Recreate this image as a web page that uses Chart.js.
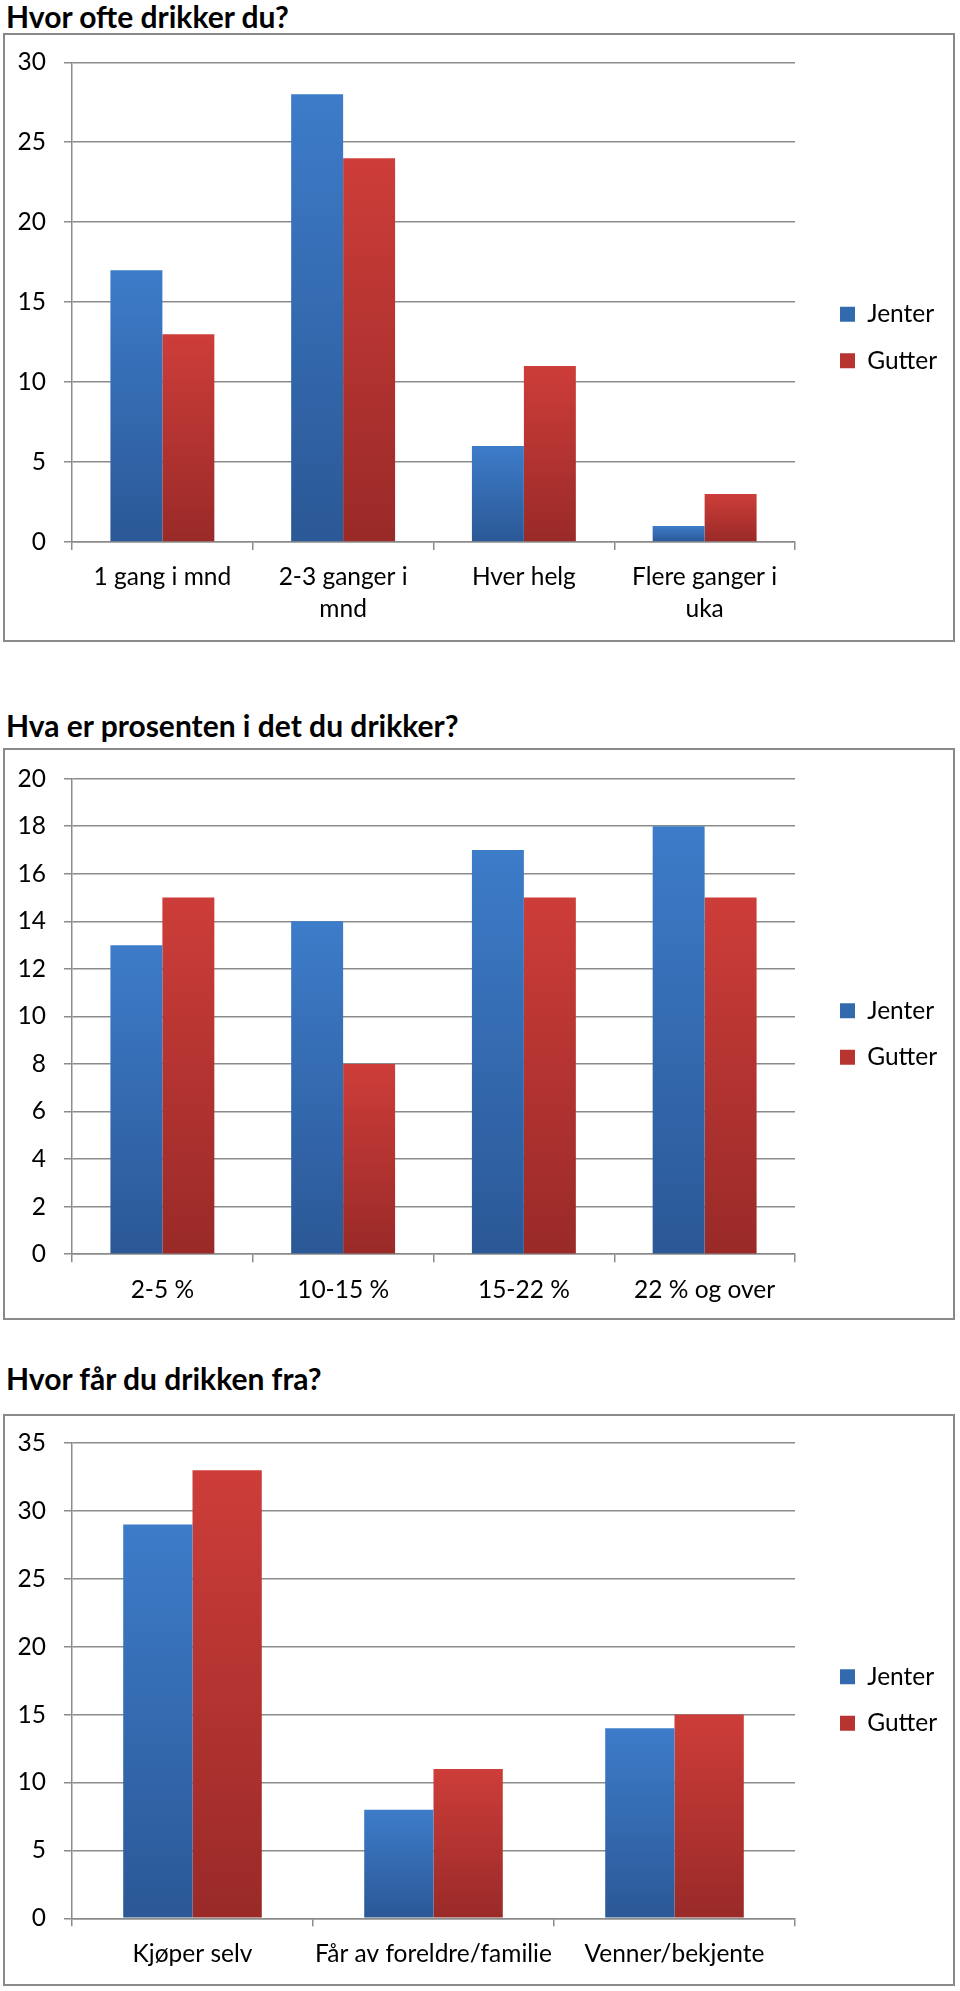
<!DOCTYPE html>
<html>
<head>
<meta charset="utf-8">
<script src="https://cdn.jsdelivr.net/npm/chart.js@4.4.0/dist/chart.umd.min.js"></script>
<style>
  body { margin: 0; background: #fff; width: 960px; height: 1991px; position: relative; overflow: hidden; }
  .tittel { position: absolute; left: 6px; margin: 0; font: bold 30px Lato, sans-serif; line-height: 30px; color: #000; white-space: nowrap; }
  .boks { position: absolute; left: 3px; width: 948px; border: 2px solid #898989; background: #fff; }
  .boks canvas { display: block; }
</style>
</head>
<body>

<h2 class="tittel" style="top:1px">Hvor ofte drikker du?</h2>
<div class="boks" style="top:33px;height:605px"><canvas id="oftChart" width="948" height="605"></canvas></div>

<h2 class="tittel" style="top:710px">Hva er prosenten i det du drikker?</h2>
<div class="boks" style="top:748px;height:568px"><canvas id="prosentChart" width="948" height="568"></canvas></div>

<h2 class="tittel" style="top:1363px">Hvor får du drikken fra?</h2>
<div class="boks" style="top:1414px;height:568px"><canvas id="kildeChart" width="948" height="568"></canvas></div>

<script>
// data
const serier = ['Jenter', 'Gutter'];

const kategorier1 = ['1 gang i mnd', ['2-3 ganger i', 'mnd'], 'Hver helg', ['Flere ganger i', 'uka']];
const jenter1 = [17, 28, 6, 1];
const gutter1 = [13, 24, 11, 3];
const yMaks1 = 30, ySteg1 = 5;

const kategorier2 = ['2-5 %', '10-15 %', '15-22 %', '22 % og over'];
const jenter2 = [13, 14, 17, 18];
const gutter2 = [15, 8, 15, 15];
const yMaks2 = 20, ySteg2 = 2;

const kategorier3 = ['Kjøper selv', 'Får av foreldre/familie', 'Venner/bekjente'];
const jenter3 = [29, 8, 14];
const gutter3 = [33, 11, 15];
const yMaks3 = 35, ySteg3 = 5;

const FONT = 'Lato';
const FONTSIZE = 24.5;
const grå = '#8b8b8b';

// gradient per stolpe, lys topp -> mørk bunn
function farge(topp, bunn) {
  return function(context) {
    const chart = context.chart;
    const y = chart.scales.y;
    if (!chart.chartArea || !y || context.raw == null) return bunn;
    const y0 = y.getPixelForValue(context.raw);
    const y1 = y.getPixelForValue(0);
    if (!isFinite(y0) || !isFinite(y1) || y0 === y1) return bunn;
    const g = chart.ctx.createLinearGradient(0, y0, 0, y1);
    g.addColorStop(0, topp);
    g.addColorStop(1, bunn);
    return g;
  };
}

// bredde på legenden, brukes til å plassere plotteområdet
function legendeBredde(pad, boks) {
  const ctx = document.createElement('canvas').getContext('2d');
  ctx.font = FONTSIZE + 'px ' + FONT;
  const maks = Math.max(...serier.map(t => ctx.measureText(t).width));
  return pad + boks + FONTSIZE / 2 + maks + 10;
}

function lagChart(id, labels, jenter, gutter, yMaks, ySteg, oppe, nede) {
  const canvas = document.getElementById(id);
  const H = canvas.height;
  const legPad = 22;
  const høyreLuft = 23;
  const padHøyre = 948 - 790 - høyreLuft - legendeBredde(legPad, 15);

  return new Chart(canvas, {
    type: 'bar',
    data: {
      labels: labels,
      datasets: [
        {
          label: serier[0],
          data: jenter,
          backgroundColor: farge('#3d7cc9', '#2b5896'),
          legendFarge: '#336aae',
          borderWidth: 0,
          categoryPercentage: 0.575,
          barPercentage: 1
        },
        {
          label: serier[1],
          data: gutter,
          backgroundColor: farge('#cd3d39', '#992a28'),
          legendFarge: '#b83431',
          borderWidth: 0,
          categoryPercentage: 0.575,
          barPercentage: 1
        }
      ]
    },
    options: {
      responsive: false,
      animation: false,
      layout: {
        padding: { left: 0, top: 0, bottom: 0, right: padHøyre }
      },
      plugins: {
        legend: {
          position: 'right',
          labels: {
            boxWidth: 15,
            boxHeight: 15,
            padding: legPad,
            color: '#000',
            font: { family: FONT, size: FONTSIZE },
            generateLabels: function(chart) {
              return chart.data.datasets.map((ds, i) => ({
                text: ds.label,
                fillStyle: ds.legendFarge,
                strokeStyle: ds.legendFarge,
                lineWidth: 0,
                hidden: !chart.isDatasetVisible(i),
                datasetIndex: i
              }));
            }
          }
        },
        tooltip: { enabled: false }
      },
      scales: {
        x: {
          grid: {
            display: true,
            drawOnChartArea: false,
            drawTicks: true,
            tickLength: 8,
            color: grå,
            lineWidth: 1.5
          },
          border: { display: true, color: grå, width: 1.5 },
          ticks: {
            color: '#000',
            padding: 12,
            maxRotation: 0,
            autoSkip: false,
            font: { family: FONT, size: FONTSIZE, lineHeight: 1.27 }
          },
          afterFit: function(scale) {
            scale.height = H - nede;
          }
        },
        // tom akse oppe, gir luft over plottet
        x2: {
          type: 'category',
          position: 'top',
          display: true,
          grid: { display: false, drawTicks: false },
          ticks: { display: false },
          border: { display: false },
          afterFit: function(scale) {
            scale.height = oppe;
          }
        },
        y: {
          min: 0,
          max: yMaks,
          grid: {
            color: grå,
            lineWidth: 1.5,
            tickLength: 8
          },
          border: { display: true, color: grå, width: 1.5 },
          ticks: {
            stepSize: ySteg,
            color: '#000',
            padding: 18,
            // lav linjehøyde så øverste etikett ikke skyver plottet ned
            font: { family: FONT, size: FONTSIZE, lineHeight: 0.6 }
          },
          afterFit: function(scale) {
            scale.width = 67;
          }
        },
        y2: {
          type: 'linear',
          position: 'right',
          display: true,
          grid: { display: false, drawTicks: false },
          ticks: { display: false, padding: 0 },
          border: { display: false },
          afterFit: function(scale) {
            scale.width = høyreLuft;
          }
        }
      }
    }
  });
}

// Chart drikkefrekvens
lagChart('oftChart', kategorier1, jenter1, gutter1, yMaks1, ySteg1, 27.3, 507);
// Chart prosent
lagChart('prosentChart', kategorier2, jenter2, gutter2, yMaks2, ySteg2, 28.7, 504.2);
// Chart kilde
lagChart('kildeChart', kategorier3, jenter3, gutter3, yMaks3, ySteg3, 27, 502.3);
</script>
</body>
</html>
